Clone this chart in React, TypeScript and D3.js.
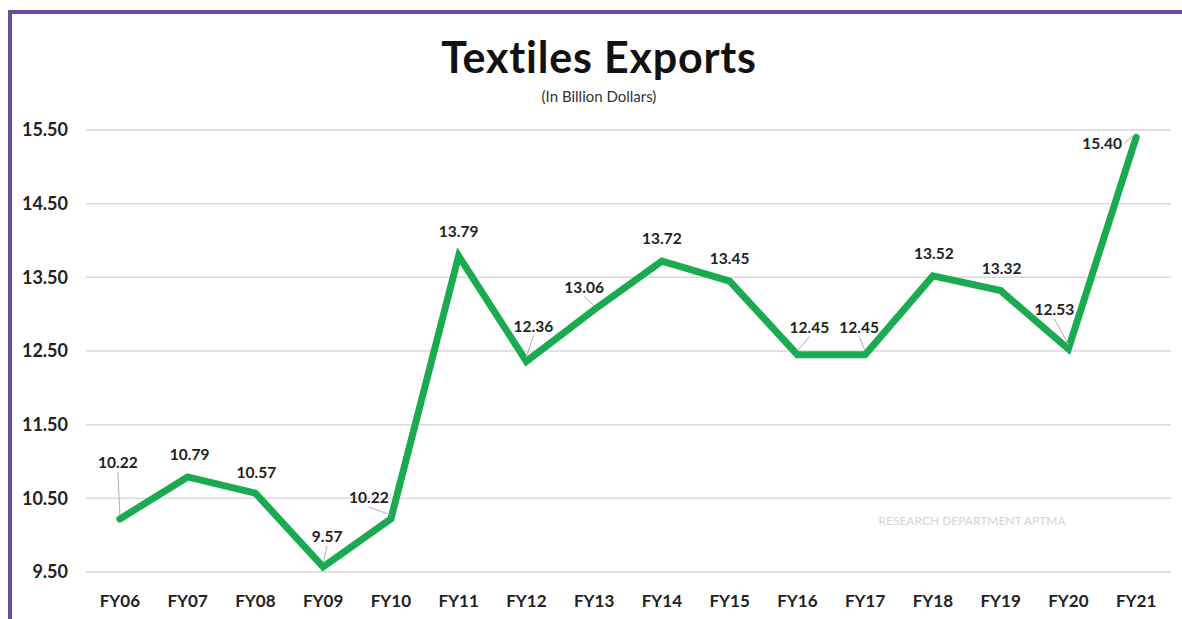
import React from "react";
import * as d3 from "d3";

const categories = ["FY06","FY07","FY08","FY09","FY10","FY11","FY12","FY13","FY14","FY15","FY16","FY17","FY18","FY19","FY20","FY21"];
const exportsValues = [10.22,10.79,10.57,9.57,10.22,13.79,12.36,13.06,13.72,13.45,12.45,12.45,13.52,13.32,12.53,15.40];
const yTicks = [9.5,10.5,11.5,12.5,13.5,14.5,15.5];

// label placement (dx, dy from point, and whether a leader line is drawn)
const labelLayout: [number, number, boolean][] = [
  [-2,-56,true],[2,-22,false],[1,-21,false],[4,-30,true],[-22,-21,true],[0,-24,false],
  [7,-35,true],[-10,-22,true],[0,-23,false],[0,-22,false],[12,-27,true],[-6,-27,true],
  [1,-22,false],[1,-22,false],[-14,-39,true],[-34,6,true],
];

const W = 1182, H = 619;
const FONT = "Lato, 'Open Sans', sans-serif";

export default function App() {
  const x = d3.scalePoint<string>().domain(categories).range([86, 1170]).padding(0.5);
  const y = d3.scaleLinear().domain([9.5, 15.5]).range([572, 130]);
  const line = d3.line<number>().x((_, i) => x(categories[i])!).y(d => y(d));

  return (
    <svg width={W} height={H} style={{ position: "absolute", left: 0, top: 0, background: "#fff" }}>
      <rect x={0} y={0} width={W} height={H} fill="#fff" />
      {/* frame */}
      <line x1={8} x2={W} y1={12} y2={12} stroke="#6a4c9c" strokeWidth={4} />
      <line x1={10} x2={10} y1={10} y2={H} stroke="#6a4c9c" strokeWidth={4} />

      <text x={599} y={73} textAnchor="middle" fontFamily={FONT} fontWeight={700} fontSize={43} letterSpacing={0.8} fill="#111">Textiles Exports</text>
      <text x={599} y={102} textAnchor="middle" fontFamily={FONT} fontSize={15} fill="#333">(In Billion Dollars)</text>

      {yTicks.map(t => (
        <g key={t}>
          <line x1={86} x2={1171} y1={y(t)} y2={y(t)} stroke="#d9d9d9" strokeWidth={1.5} />
          <text x={68} y={y(t)} dy="0.35em" textAnchor="end" fontFamily={FONT} fontWeight={700} fontSize={18} fill="#222">{t.toFixed(2)}</text>
        </g>
      ))}

      {categories.map(c => (
        <text key={c} x={x(c)} y={601} dy="0.35em" textAnchor="middle" fontFamily={FONT} fontWeight={700} fontSize={17} fill="#222">{c}</text>
      ))}

      <text x={972} y={521} dy="0.35em" textAnchor="middle" fontFamily={FONT} fontSize={12} fill="#d4d4d4">RESEARCH DEPARTMENT APTMA</text>

      <path d={line(exportsValues)!} fill="none" stroke="#1aaa50" strokeWidth={7} strokeLinejoin="miter" strokeLinecap="round" />

      {exportsValues.map((v, i) => {
        const px = x(categories[i])!;
        const py = y(v);
        const [dx, dy, leader] = labelLayout[i];
        const lx = px + dx, ly = py + dy;
        let lead = null;
        if (leader) {
          let sx = lx, sy = ly + 9;
          if (dy > -5) { sx = lx + 22; sy = ly; }
          lead = <line x1={sx} y1={sy} x2={px} y2={py - 4} stroke="#b0b0b0" strokeWidth={1} />;
        }
        return (
          <g key={i}>
            {lead}
            <text x={lx} y={ly} dy="0.35em" textAnchor="middle" fontFamily={FONT} fontWeight={700} fontSize={15.5} fill="#222">{v.toFixed(2)}</text>
          </g>
        );
      })}
    </svg>
  );
}
